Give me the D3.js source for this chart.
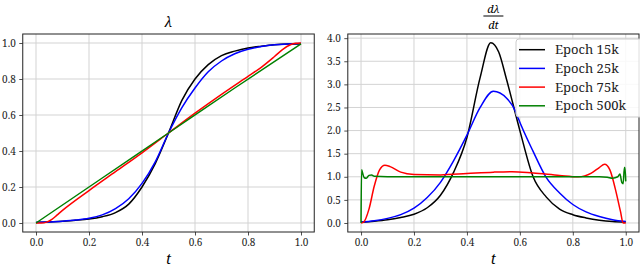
<!DOCTYPE html>
<html>
<head>
<meta charset="utf-8">
<script src="https://cdn.jsdelivr.net/npm/d3@7"></script>
<style>
  body { margin: 0; background: #fff; }
  svg text { font-family: "Noto Serif", "Liberation Serif", serif; }
</style>
</head>
<body>
<div id="chart"></div>
<script>
// ---- data ----
var series_names = ["Epoch 15k", "Epoch 25k", "Epoch 75k", "Epoch 500k"];
var series_colors = ["#000000", "#0000ff", "#ff0000", "#008000"];
var x_ticks = [0.0, 0.2, 0.4, 0.6, 0.8, 1.0];
var lam_ticks = [0.0, 0.2, 0.4, 0.6, 0.8, 1.0];
var dlam_ticks = [0.0, 0.5, 1.0, 1.5, 2.0, 2.5, 3.0, 3.5, 4.0];

// lambda(t)
var lam_t = [0, 0.05, 0.1, 0.15, 0.2, 0.25, 0.3, 0.35, 0.4, 0.45, 0.5, 0.55, 0.6, 0.65, 0.7, 0.75, 0.8, 0.85, 0.9, 0.95, 1.0];
var lam_15k = [0.003, 0.006, 0.01, 0.015, 0.022, 0.035, 0.058, 0.105, 0.2, 0.33, 0.5, 0.68, 0.8, 0.88, 0.93, 0.955, 0.972, 0.982, 0.99, 0.994, 0.995];
var lam_25k = [0.003, 0.006, 0.01, 0.016, 0.026, 0.045, 0.08, 0.135, 0.22, 0.34, 0.5, 0.64, 0.75, 0.84, 0.9, 0.94, 0.965, 0.98, 0.99, 0.995, 0.997];
var lam_75k_t = [0, 0.02, 0.04, 0.06, 0.08, 0.1, 0.2, 0.3, 0.4, 0.5, 0.6, 0.7, 0.8, 0.85, 0.9, 0.93, 0.96, 0.98, 1.0];
var lam_75k = [0, 0, 0.005, 0.02, 0.045, 0.07, 0.18, 0.285, 0.39, 0.5, 0.61, 0.715, 0.815, 0.865, 0.925, 0.963, 0.99, 0.998, 1.0];
var lam_500k_t = [0, 0.25, 0.5, 0.75, 1.0];
var lam_500k = [0.0, 0.25, 0.5, 0.75, 0.995];

// dlambda/dt
var d_t = [0, 0.05, 0.1, 0.15, 0.2, 0.25, 0.3, 0.35, 0.4, 0.45, 0.49, 0.52, 0.55, 0.6, 0.65, 0.7, 0.75, 0.8, 0.85, 0.9, 0.95, 1.0];
var d_15k = [0.02, 0.04, 0.07, 0.12, 0.19, 0.33, 0.6, 1.1, 1.85, 3.15, 3.9, 3.7, 3.1, 2.0, 1.0, 0.56, 0.3, 0.18, 0.11, 0.06, 0.03, 0.02];
var d_25k_t = [0, 0.05, 0.1, 0.15, 0.2, 0.25, 0.3, 0.35, 0.4, 0.45, 0.5, 0.55, 0.585, 0.595, 0.65, 0.7, 0.75, 0.8, 0.85, 0.9, 0.95, 1.0];
var d_25k = [0.02, 0.05, 0.1, 0.18, 0.32, 0.55, 0.88, 1.35, 1.9, 2.5, 2.85, 2.7, 2.4, 2.25, 1.55, 0.98, 0.65, 0.4, 0.24, 0.14, 0.07, 0.03];
var d_75k_t = [0, 0.01, 0.03, 0.05, 0.07, 0.09, 0.11, 0.15, 0.2, 0.3, 0.4, 0.5, 0.57, 0.65, 0.75, 0.82, 0.87, 0.9, 0.92, 0.94, 0.96, 0.98, 0.99, 1.0];
var d_75k = [0, 0.02, 0.3, 0.8, 1.15, 1.25, 1.22, 1.1, 1.05, 1.04, 1.07, 1.1, 1.11, 1.08, 1.03, 1.0, 1.08, 1.2, 1.27, 1.15, 0.75, 0.25, 0.0, 0.0];
var d_500k_t = [0, 0.002, 0.006, 0.012, 0.02, 0.03, 0.04, 0.05, 0.1, 0.3, 0.5, 0.7, 0.9, 0.93, 0.95, 0.97, 0.978, 0.985, 0.99, 0.995, 0.997, 1.0];
var d_500k = [0, 1.15, 1.08, 0.98, 0.97, 1.03, 1.04, 1.01, 1.0, 1.0, 1.0, 1.0, 1.0, 0.99, 0.97, 1.0, 1.06, 0.88, 0.85, 1.2, 1.2, 0.9];

// ---- drawing ----
var width = 640, height = 267;
var svg = d3.select("#chart").append("svg")
    .attr("width", width)
    .attr("height", height);

function zip(xs, ys) {
    return xs.map(function (x, i) { return [x, ys[i]]; });
}

function drawPanel(left, right, ydomain, yticks, lines) {
    var top = 34, bottom = 232;
    var x = d3.scaleLinear().domain([-0.05, 1.05]).range([left, right]);
    var y = d3.scaleLinear().domain(ydomain).range([bottom, top]);
    var g = svg.append("g");

    //Grid
    g.selectAll(".gx").data(x_ticks).enter().append("line")
        .attr("x1", function (d) { return x(d); }).attr("x2", function (d) { return x(d); })
        .attr("y1", top).attr("y2", bottom)
        .attr("stroke", "#d3d3d3").attr("stroke-width", 1);
    g.selectAll(".gy").data(yticks).enter().append("line")
        .attr("x1", left).attr("x2", right)
        .attr("y1", function (d) { return y(d); }).attr("y2", function (d) { return y(d); })
        .attr("stroke", "#d3d3d3").attr("stroke-width", 1);

    //Curves
    var line = d3.line()
        .x(function (d) { return x(d[0]); })
        .y(function (d) { return y(d[1]); })
        .curve(d3.curveMonotoneX);
    lines.forEach(function (l, i) {
        g.append("path")
            .attr("d", line(l))
            .attr("fill", "none")
            .attr("stroke", series_colors[i])
            .attr("stroke-width", 1.5);
    });

    //Axes
    var xAxis = d3.axisBottom(x).tickValues(x_ticks).tickFormat(d3.format(".1f")).tickSize(3.5).tickPadding(3.5);
    var yAxis = d3.axisLeft(y).tickValues(yticks).tickFormat(d3.format(".1f")).tickSize(3.5).tickPadding(3.5);
    var gx = g.append("g").attr("transform", "translate(0," + bottom + ")").call(xAxis);
    var gy = g.append("g").attr("transform", "translate(" + left + ",0)").call(yAxis);
    [gx, gy].forEach(function (a) {
        a.attr("font-family", null);
        a.select(".domain").remove();
        a.selectAll("text").attr("font-size", 10).attr("fill", "#222");
        a.selectAll("line").attr("stroke", "#222").attr("stroke-width", 0.8);
    });

    //Spines
    g.append("rect")
        .attr("x", left).attr("y", top)
        .attr("width", right - left).attr("height", bottom - top)
        .attr("fill", "none").attr("stroke", "#222").attr("stroke-width", 1);

    //x label
    g.append("text")
        .attr("x", (left + right) / 2).attr("y", 264)
        .attr("text-anchor", "middle")
        .attr("font-size", 14).attr("font-style", "italic")
        .text("t");

    return { x: x, y: y, cx: (left + right) / 2 };
}

var p1 = drawPanel(22.75, 314.25, [-0.05, 1.05], lam_ticks, [
    zip(lam_t, lam_15k), zip(lam_t, lam_25k), zip(lam_75k_t, lam_75k), zip(lam_500k_t, lam_500k)
]);
var p2 = drawPanel(347.8, 639, [-0.195, 4.09], dlam_ticks, [
    zip(d_t, d_15k), zip(d_25k_t, d_25k), zip(d_75k_t, d_75k), zip(d_500k_t, d_500k)
]);

//Titles
svg.append("text")
    .attr("x", p1.cx).attr("y", 27)
    .attr("text-anchor", "middle")
    .attr("font-size", 14).attr("font-style", "italic")
    .text("λ");

svg.append("text")
    .attr("x", p2.cx).attr("y", 12.5)
    .attr("text-anchor", "middle")
    .attr("font-size", 11).attr("font-style", "italic")
    .text("dλ");
svg.append("line")
    .attr("x1", p2.cx - 10).attr("x2", p2.cx + 10)
    .attr("y1", 16).attr("y2", 16)
    .attr("stroke", "#000").attr("stroke-width", 1);
svg.append("text")
    .attr("x", p2.cx).attr("y", 29)
    .attr("text-anchor", "middle")
    .attr("font-size", 11).attr("font-style", "italic")
    .text("dt");

//Legend
var lg = svg.append("g");
lg.append("rect")
    .attr("x", 516).attr("y", 39)
    .attr("width", 130).attr("height", 78)
    .attr("rx", 3)
    .attr("fill", "#fff").attr("fill-opacity", 0.85)
    .attr("stroke", "#cccccc").attr("stroke-width", 1);
series_names.forEach(function (name, i) {
    var yy = 49.7 + i * 18.7;
    lg.append("line")
        .attr("x1", 519).attr("x2", 545)
        .attr("y1", yy).attr("y2", yy)
        .attr("stroke", series_colors[i]).attr("stroke-width", 1.5);
    lg.append("text")
        .attr("x", 555).attr("y", yy + 4.5)
        .attr("font-size", 13)
        .attr("fill", "#222")
        .text(name);
});
</script>
</body>
</html>
